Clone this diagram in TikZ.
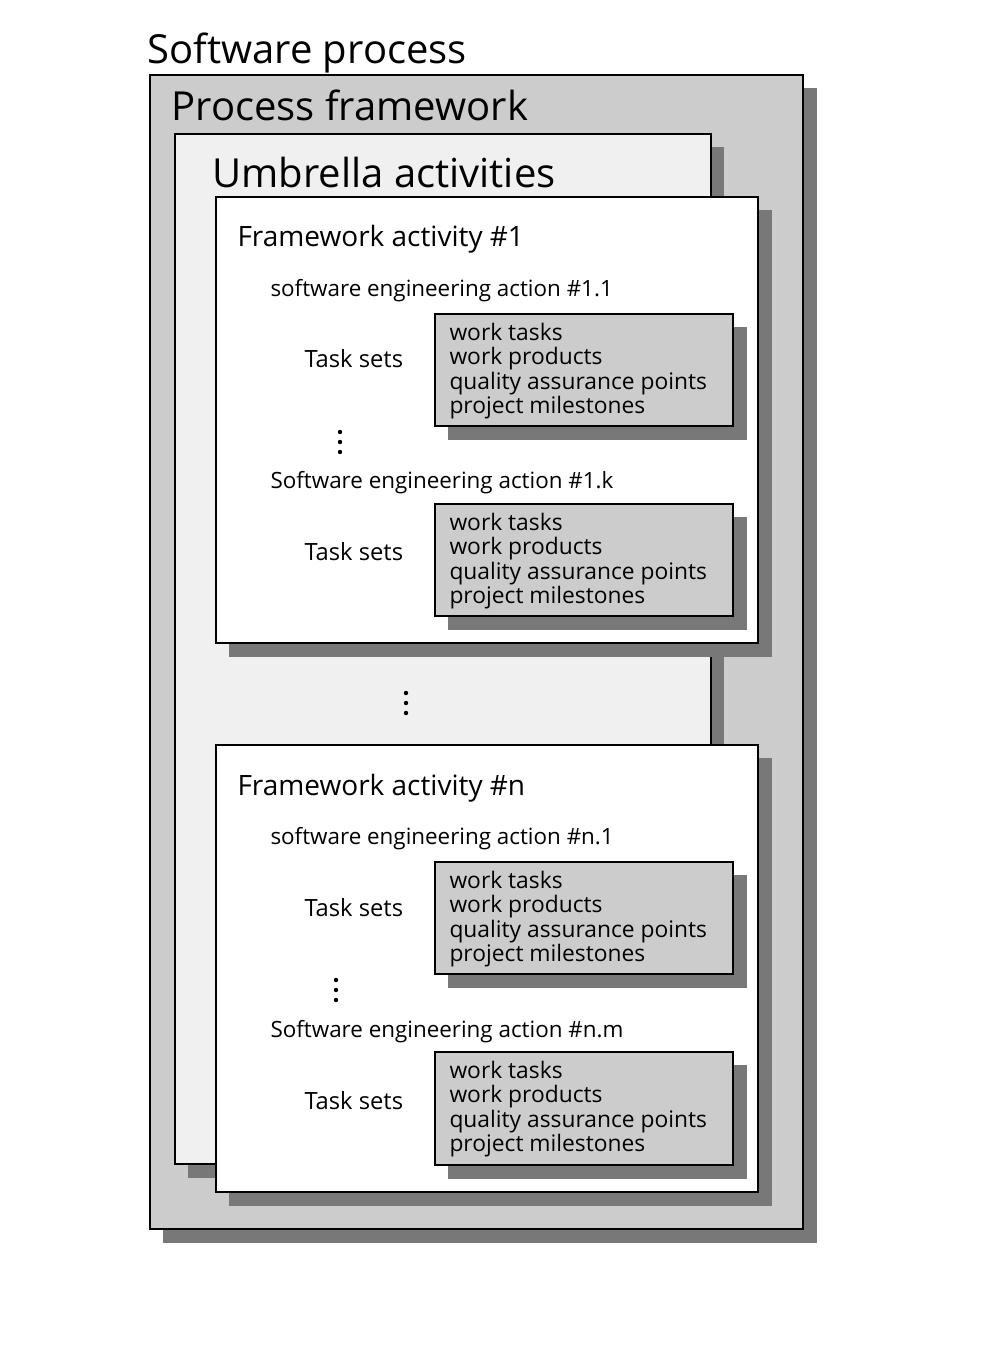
\documentclass[tikz,border=0pt]{standalone}
\usepackage{fontspec}
\setmainfont{Open Sans}
\tikzset{every picture/.style={line width=0.75pt}}
\definecolor{shadowgrey}{RGB}{120,120,120}
\definecolor{framegrey}{RGB}{204,204,204}
\definecolor{umbrellagrey}{RGB}{240,240,240}
\tikzset{
  shadowbox/.style={fill=shadowgrey,draw=none},
  framebox/.style={draw=black,line width=1.1pt},
  titletext/.style={anchor=base west,inner sep=0.75pt,font=\fontsize{30}{34}\selectfont},
  activitytext/.style={anchor=base west,inner sep=0.75pt,font=\fontsize{21}{25}\selectfont},
  actiontext/.style={anchor=base west,inner sep=0.75pt,font=\fontsize{16.8}{20}\selectfont},
  setstext/.style={anchor=base west,inner sep=0.75pt,font=\fontsize{17.8}{20}\selectfont},
  tasklist/.style={anchor=west,inner sep=0.75pt,align=left,font=\fontsize{17.1}{18.4}\selectfont},
}

\begin{document}
\begin{tikzpicture}[x=0.75pt,y=0.75pt,yscale=-1,xscale=1]
\useasboundingbox (0,0) rectangle (1000,1346);

%Shape: Rectangle [id:process]
\fill [shadowbox] (163,88) rectangle (817,1243);
\draw [framebox,fill=framegrey] (150,75) rectangle (803,1229);
%Shape: Rectangle [id:umbrella]
\fill [shadowbox] (188,147) rectangle (724,1178);
\draw [framebox,fill=umbrellagrey] (175,134) rectangle (711,1164);
%Shape: Rectangle [id:activity1]
\fill [shadowbox] (229,210) rectangle (772,657);
\draw [framebox,fill=white] (216,197) rectangle (758,643);
%Shape: Rectangle [id:activityn]
\fill [shadowbox] (229,758) rectangle (772,1206);
\draw [framebox,fill=white] (216,745) rectangle (758,1192);
%Shape: Rectangle [id:tasks11]
\fill [shadowbox] (448,327) rectangle (747,440);
\draw [framebox,fill=framegrey] (435,314) rectangle (733,426);
%Shape: Rectangle [id:tasks1k]
\fill [shadowbox] (448,517) rectangle (747,630);
\draw [framebox,fill=framegrey] (435,504) rectangle (733,616);
%Shape: Rectangle [id:tasksn1]
\fill [shadowbox] (448,875) rectangle (747,988);
\draw [framebox,fill=framegrey] (435,862) rectangle (733,974);
%Shape: Rectangle [id:tasksnm]
\fill [shadowbox] (448,1065) rectangle (747,1179);
\draw [framebox,fill=framegrey] (435,1052) rectangle (733,1165);

%Shape: Dots
\fill (340,432) circle (2.2) (340,442) circle (2.2) (340,452) circle (2.2);
\fill (406,693) circle (2.2) (406,703) circle (2.2) (406,713) circle (2.2);
\fill (336,980) circle (2.2) (336,990) circle (2.2) (336,1000) circle (2.2);

% Text Node
\node [titletext] (softproc) at (146,63) {Software process};
% Text Node
\node [titletext] (procframe) at (170,120) {Process framework};
% Text Node
\node [titletext] (umbrella) at (211,187) {Umbrella activities};

% Text Node
\node [activitytext] (act1) at (236,246) {Framework activity \#1};
% Text Node
\node [actiontext] (action11) at (269,296) {software engineering action \#1.1};
% Text Node
\node [setstext] (sets11) at (303,367) {Task sets};
% Text Node
\node [tasklist] (list11) at (448,371) {work tasks\\work products\\quality assurance points\\project milestones};
% Text Node
\node [actiontext] (action1k) at (269,488) {Software engineering action \#1.k};
% Text Node
\node [setstext] (sets1k) at (303,560) {Task sets};
% Text Node
\node [tasklist] (list1k) at (448,561) {work tasks\\work products\\quality assurance points\\project milestones};

% Text Node
\node [activitytext] (actn) at (236,795) {Framework activity \#n};
% Text Node
\node [actiontext] (actionn1) at (269,844) {software engineering action \#n.1};
% Text Node
\node [setstext] (setsn1) at (303,916) {Task sets};
% Text Node
\node [tasklist] (listn1) at (448,919) {work tasks\\work products\\quality assurance points\\project milestones};
% Text Node
\node [actiontext] (actionnm) at (269,1037) {Software engineering action \#n.m};
% Text Node
\node [setstext] (setsnm) at (303,1109) {Task sets};
% Text Node
\node [tasklist] (listnm) at (448,1109) {work tasks\\work products\\quality assurance points\\project milestones};

\end{tikzpicture}
\end{document}
